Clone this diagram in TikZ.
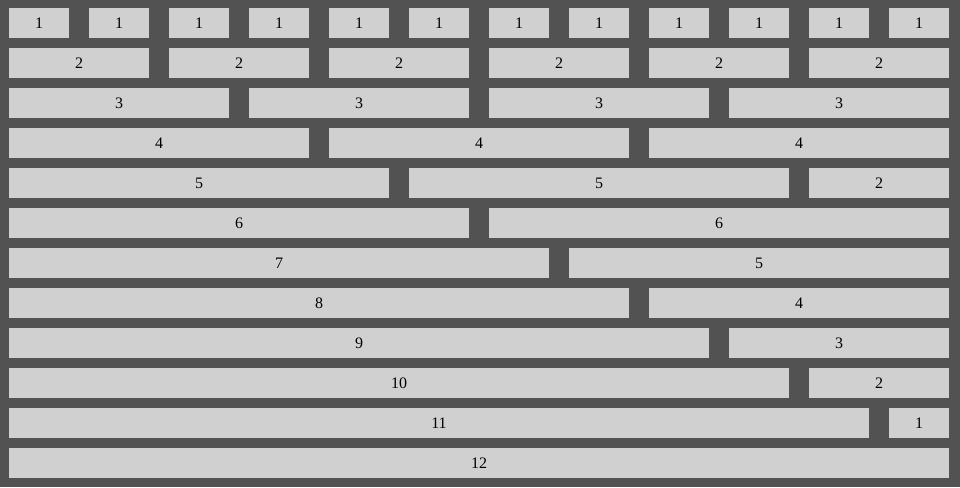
\documentclass[tikz,border=0pt]{standalone}
\usepackage{fontspec}
\setmainfont{Liberation Serif}
\definecolor{bgcol}{HTML}{525252}
\definecolor{cellcol}{HTML}{D0D0D0}
\tikzset{
  cellbox/.style={fill=cellcol, draw=none, inner sep=0pt, outer sep=0pt,
    minimum height=30pt, anchor=north west, text=black,
    font=\fontsize{16}{16}\selectfont}
}
% #1 name, #2 start column (0-based), #3 span, #4 row (0-based), #5 text
\newcommand\gcell[5]{%
  \pgfmathsetlengthmacro\cellw{(80*#3-20)*1pt}%
  \node[cellbox, minimum width=\cellw] (#1) at ({9+80*#2},{8+40*#4}) {#5};%
}
\begin{document}
\begin{tikzpicture}[x=1pt,y=-1pt]
\fill[bgcol] (0,0) rectangle (960,487);
\useasboundingbox (0,0) rectangle (960,487);
% row 1
\foreach \c in {0,...,11} { \gcell{ra\c}{\c}{1}{0}{1} }
% row 2
\foreach \i in {0,...,5} { \pgfmathtruncatemacro\cc{2*\i}\gcell{rb\i}{\cc}{2}{1}{2} }
% row 3
\foreach \i in {0,...,3} { \pgfmathtruncatemacro\cc{3*\i}\gcell{rc\i}{\cc}{3}{2}{3} }
% row 4
\foreach \i in {0,...,2} { \pgfmathtruncatemacro\cc{4*\i}\gcell{rd\i}{\cc}{4}{3}{4} }
% row 5
\gcell{re0}{0}{5}{4}{5}
\gcell{re1}{5}{5}{4}{5}
\gcell{re2}{10}{2}{4}{2}
% row 6
\gcell{rf0}{0}{6}{5}{6}
\gcell{rf1}{6}{6}{5}{6}
% row 7
\gcell{rg0}{0}{7}{6}{7}
\gcell{rg1}{7}{5}{6}{5}
% row 8
\gcell{rh0}{0}{8}{7}{8}
\gcell{rh1}{8}{4}{7}{4}
% row 9
\gcell{ri0}{0}{9}{8}{9}
\gcell{ri1}{9}{3}{8}{3}
% row 10
\gcell{rj0}{0}{10}{9}{10}
\gcell{rj1}{10}{2}{9}{2}
% row 11
\gcell{rk0}{0}{11}{10}{11}
\gcell{rk1}{11}{1}{10}{1}
% row 12
\gcell{rl0}{0}{12}{11}{12}
\end{tikzpicture}
\end{document}
